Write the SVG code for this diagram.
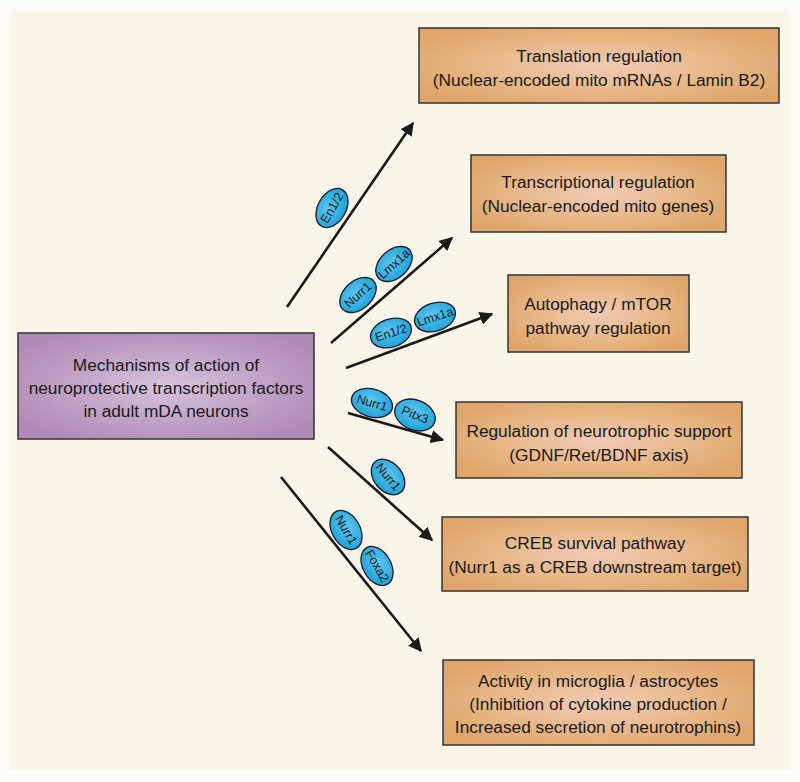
<svg xmlns="http://www.w3.org/2000/svg" width="800" height="782" viewBox="0 0 800 782">
<defs>
<radialGradient id="og" cx="0.5" cy="0.5" r="0.6">
<stop offset="0" stop-color="#f1cbb6"/>
<stop offset="0.6" stop-color="#e7b684"/>
<stop offset="1" stop-color="#dfa56a"/>
</radialGradient>
<radialGradient id="pg" cx="0.5" cy="0.5" r="0.6">
<stop offset="0" stop-color="#d6c4dc"/>
<stop offset="0.6" stop-color="#bea0c5"/>
<stop offset="1" stop-color="#b08ab6"/>
</radialGradient>
<radialGradient id="bg" cx="0.45" cy="0.4" r="0.6">
<stop offset="0" stop-color="#5ec6ef"/>
<stop offset="1" stop-color="#1fa2d8"/>
</radialGradient>
<marker id="ah" viewBox="0 0 10 10" refX="9" refY="5" markerWidth="5.2" markerHeight="5.2" markerUnits="strokeWidth" orient="auto">
<path d="M0,0 L10,5 L0,10 Z" fill="#1a1a1a"/>
</marker>
</defs>
<style>
.box{fill:url(#og);stroke:#333;stroke-width:1.5}
.main{fill:url(#pg);stroke:#333;stroke-width:1.5}
.t{font-family:"Liberation Sans",Arial,sans-serif;font-size:17.3px;fill:#1a1a1a;text-anchor:middle}
.arr{stroke:#1a1a1a;stroke-width:2.6;fill:none;marker-end:url(#ah)}
.tf ellipse{fill:url(#bg);stroke:#1a1a2a;stroke-width:1.3}
.tf text{font-family:"Liberation Sans",Arial,sans-serif;font-size:12.5px;fill:#1a1a1a;text-anchor:middle;dominant-baseline:central}
</style>
<rect x="0" y="0" width="800" height="782" fill="#fdfcf8"/>
<rect x="9" y="11" width="782" height="759" fill="#f9f5e9"/>

<g id="connectors">
<line class="arr" x1="287" y1="307" x2="413" y2="123"/>
<line class="arr" x1="331" y1="343" x2="452" y2="238"/>
<line class="arr" x1="346" y1="368" x2="492" y2="314"/>
<line class="arr" x1="348" y1="413" x2="443" y2="440"/>
<line class="arr" x1="328" y1="447" x2="432" y2="540"/>
<line class="arr" x1="281" y1="477" x2="421" y2="651"/>
</g>

<g id="main">
<rect class="main" x="18" y="333" width="296" height="106"/>
<text class="t" x="166" y="371">Mechanisms of action of</text>
<text class="t" x="166" y="394">neuroprotective transcription factors</text>
<text class="t" x="166" y="417">in adult mDA neurons</text>
</g>

<g id="n1">
<rect class="box" x="419" y="28" width="360" height="75"/>
<text class="t" x="599" y="62">Translation regulation</text>
<text class="t" x="599" y="86">(Nuclear-encoded mito mRNAs / Lamin B2)</text>
</g>
<g id="n2">
<rect class="box" x="471" y="155" width="255" height="77"/>
<text class="t" x="598" y="188">Transcriptional regulation</text>
<text class="t" x="598" y="212">(Nuclear-encoded mito genes)</text>
</g>
<g id="n3">
<rect class="box" x="508" y="275" width="181" height="77"/>
<text class="t" x="598" y="310">Autophagy / mTOR</text>
<text class="t" x="598" y="334">pathway regulation</text>
</g>
<g id="n4">
<rect class="box" x="456" y="402" width="286" height="76"/>
<text class="t" x="599" y="437">Regulation of neurotrophic support</text>
<text class="t" x="599" y="461">(GDNF/Ret/BDNF axis)</text>
</g>
<g id="n5">
<rect class="box" x="442" y="517" width="306" height="74"/>
<text class="t" x="595" y="549">CREB survival pathway</text>
<text class="t" x="595" y="573">(Nurr1 as a CREB downstream target)</text>
</g>
<g id="n6">
<rect class="box" x="443" y="660" width="311" height="85"/>
<text class="t" x="598" y="687">Activity in microglia / astrocytes</text>
<text class="t" x="598" y="710">(Inhibition of cytokine production /</text>
<text class="t" x="598" y="733">Increased secretion of neurotrophins)</text>
</g>

<g id="tf-en12-a" class="tf" transform="translate(332,208) rotate(-60)">
<ellipse rx="21" ry="14"/><text>En1/2</text>
</g>
<g id="tf-nurr1-a" class="tf" transform="translate(358,295) rotate(-42)">
<ellipse rx="21" ry="14"/><text>Nurr1</text>
</g>
<g id="tf-lmx1a-a" class="tf" transform="translate(394,264) rotate(-42)">
<ellipse rx="21" ry="14"/><text>Lmx1a</text>
</g>
<g id="tf-en12-b" class="tf" transform="translate(391,333) rotate(-18)">
<ellipse rx="21" ry="14"/><text>En1/2</text>
</g>
<g id="tf-lmx1a-b" class="tf" transform="translate(435,317) rotate(-18)">
<ellipse rx="21" ry="14"/><text>Lmx1a</text>
</g>
<g id="tf-nurr1-b" class="tf" transform="translate(372,403) rotate(16)">
<ellipse rx="21" ry="14"/><text>Nurr1</text>
</g>
<g id="tf-pitx3" class="tf" transform="translate(415,415) rotate(22)">
<ellipse rx="21" ry="15"/><text>Pitx3</text>
</g>
<g id="tf-nurr1-c" class="tf" transform="translate(388,477) rotate(50)">
<ellipse rx="20" ry="14"/><text>Nurr1</text>
</g>
<g id="tf-nurr1-d" class="tf" transform="translate(346,530) rotate(60)">
<ellipse rx="21" ry="14"/><text>Nurr1</text>
</g>
<g id="tf-foxa2" class="tf" transform="translate(377,566) rotate(60)">
<ellipse rx="21" ry="14"/><text>Foxa2</text>
</g>
</svg>
